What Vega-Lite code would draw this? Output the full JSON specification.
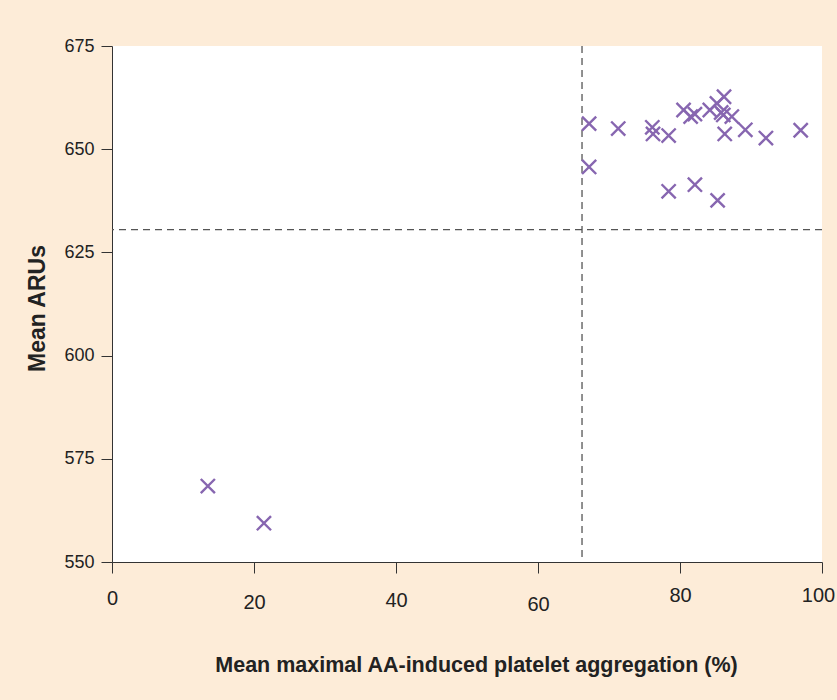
{
  "$schema": "https://vega.github.io/schema/vega-lite/v6.json",
  "autosize": "none",
  "width": 710,
  "height": 516,
  "padding": {"left": 112, "top": 46, "right": 15, "bottom": 138},
  "background": "#FDECD8",
  "config": {
    "view": {"fill": "white", "stroke": null},
    "font": "Liberation Sans",
    "axis": {
      "grid": false,
      "labelFlush": false,
      "labelOverlap": false,
      "domainColor": "#333333",
      "tickColor": "#333333",
      "tickSize": 11,
      "labelFont": "Liberation Sans",
      "labelColor": "#222222",
      "titleFont": "Liberation Sans",
      "titleFontWeight": "bold",
      "titleColor": "#222222"
    }
  },
  "datasets": {
    "pts": [
      {"agg": 13.5, "aru": 568.4},
      {"agg": 21.4, "aru": 559.4},
      {"agg": 67.2, "aru": 656.2},
      {"agg": 67.2, "aru": 645.7},
      {"agg": 71.3, "aru": 655.0},
      {"agg": 76.1, "aru": 655.3},
      {"agg": 76.2, "aru": 653.7},
      {"agg": 78.4, "aru": 653.3},
      {"agg": 78.4, "aru": 639.8},
      {"agg": 80.5, "aru": 659.5},
      {"agg": 81.5, "aru": 657.9},
      {"agg": 82.1, "aru": 658.5},
      {"agg": 82.1, "aru": 641.4},
      {"agg": 84.2, "aru": 659.5},
      {"agg": 85.2, "aru": 661.1},
      {"agg": 85.3, "aru": 637.6},
      {"agg": 86.2, "aru": 662.7},
      {"agg": 85.8, "aru": 658.9},
      {"agg": 86.1, "aru": 658.3},
      {"agg": 87.3, "aru": 657.9},
      {"agg": 86.3, "aru": 653.7},
      {"agg": 89.2, "aru": 654.7},
      {"agg": 92.1, "aru": 652.7},
      {"agg": 97.0, "aru": 654.6}
    ],
    "hline": [{"aru": 630.5}],
    "vline": [{"agg": 66.2}]
  },
  "layer": [
    {
      "data": {"name": "hline"},
      "mark": {"type": "rule", "color": "#555555", "strokeWidth": 1.3, "strokeDash": [7, 5]},
      "encoding": {"y": {"field": "aru", "type": "quantitative"}}
    },
    {
      "data": {"name": "vline"},
      "mark": {"type": "rule", "color": "#555555", "strokeWidth": 1.3, "strokeDash": [7, 5]},
      "encoding": {"x": {"field": "agg", "type": "quantitative"}}
    },
    {
      "data": {"name": "pts"},
      "mark": {
        "type": "point",
        "shape": "M -1 -1 L 1 1 M -1 1 L 1 -1",
        "filled": false,
        "stroke": "#8766B0",
        "strokeWidth": 2.4,
        "size": 200,
        "opacity": 1
      },
      "encoding": {
        "x": {
          "field": "agg",
          "type": "quantitative",
          "scale": {"domain": [0, 100], "nice": false},
          "axis": {
            "values": [0, 20, 40, 60, 80, 100],
            "labelFontSize": 20,
            "labelPadding": {"expr": "datum.value == 0 ? 15 : datum.value == 60 ? 21 : datum.value == 40 ? 17.5 : datum.value >= 80 ? 12 : 19"},
            "labelOffset": {"expr": "datum.value == 100 ? -4 : 0"},
            "title": "Mean maximal AA-induced platelet aggregation (%)",
            "titleFontSize": 21.5,
            "titlePadding": 40,
            "titleX": 364
          }
        },
        "y": {
          "field": "aru",
          "type": "quantitative",
          "scale": {"domain": [550, 675], "nice": false, "zero": false},
          "axis": {
            "values": [550, 575, 600, 625, 650, 675],
            "labelFontSize": 18,
            "labelPadding": 7,
            "title": "Mean ARUs",
            "titleFontSize": 23,
            "titlePadding": 14,
            "titleY": 262
          }
        }
      }
    }
  ]
}
